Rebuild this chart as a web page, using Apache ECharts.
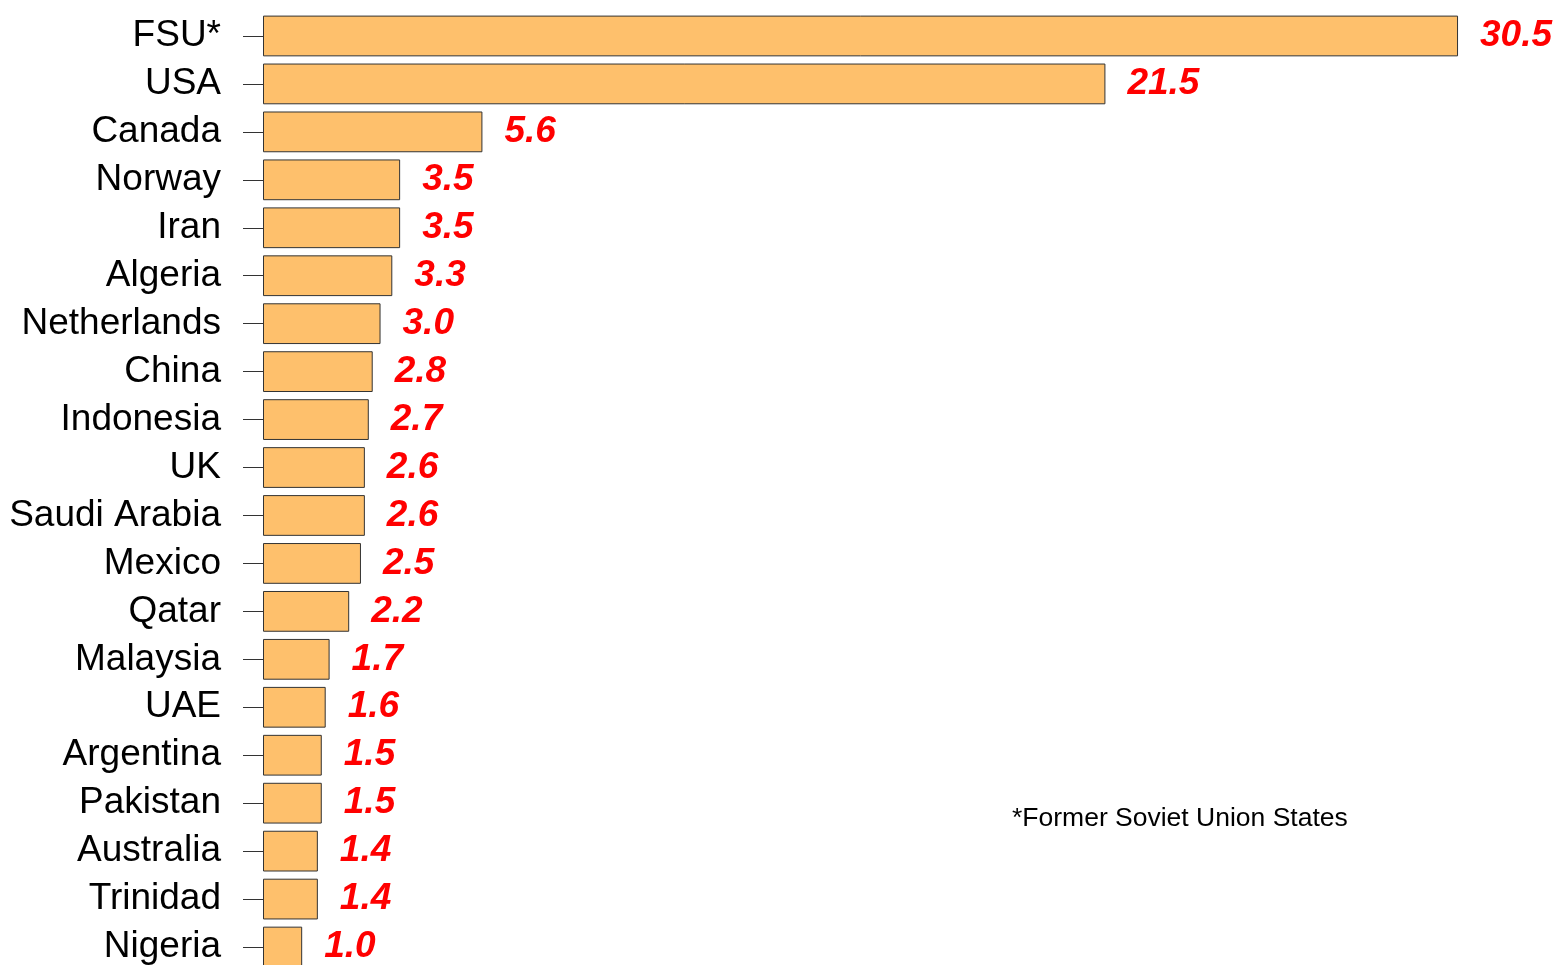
<!DOCTYPE html>
<html>
<head>
<meta charset="utf-8">
<script src="https://cdn.jsdelivr.net/npm/echarts@6/dist/echarts.min.js"></script>
<style>html,body{margin:0;padding:0;background:#fff;}#chart{width:1558px;height:965px;}</style>
</head>
<body>
<div id="chart"></div>
<script>
const categories = ["FSU*","USA","Canada","Norway","Iran","Algeria","Netherlands","China","Indonesia","UK","Saudi Arabia","Mexico","Qatar","Malaysia","UAE","Argentina","Pakistan","Australia","Trinidad","Nigeria"];
const values = [30.5,21.5,5.6,3.5,3.5,3.3,3.0,2.8,2.7,2.6,2.6,2.5,2.2,1.7,1.6,1.5,1.5,1.4,1.4,1.0];
const footnote = "*Former Soviet Union States";

const chart = echarts.init(document.getElementById('chart'));
chart.setOption({
  animation: false,
  backgroundColor: '#ffffff',
  textStyle: { fontFamily: 'Liberation Sans, Arial, sans-serif' },
  grid: { left: 263, top: 12, width: 1293, height: 959, containLabel: false, outerBoundsMode: 'none' },
  xAxis: {
    type: 'value', min: 0, max: 33, show: false
  },
  yAxis: {
    type: 'category', inverse: true, data: categories,
    axisLine: { show: false },
    axisTick: { show: true, alignWithLabel: true, length: 20, lineStyle: { color: '#333', width: 1 } },
    axisLabel: { interval: 0, margin: 42, fontSize: 37, padding: [4, 0, 0, 0], color: '#000', fontFamily: 'Liberation Sans, Arial, sans-serif' }
  },
  series: [{
    type: 'bar', data: values, barCategoryGap: '15%',
    itemStyle: { color: '#FEC06C', borderColor: '#333', borderWidth: 1 },
    label: {
      show: true, position: 'right', distance: 22, padding: [4, 0, 0, 0],
      formatter: p => p.value.toFixed(1),
      color: '#ff0000', fontWeight: 'bold', fontStyle: 'italic', fontSize: 37,
      fontFamily: 'Liberation Sans, Arial, sans-serif'
    }
  }],
  graphic: [{
    type: 'text', left: 1012, top: 805,
    style: { text: footnote, fill: '#000', font: '26.5px "Liberation Sans", Arial, sans-serif' }
  }]
});
</script>
</body>
</html>
